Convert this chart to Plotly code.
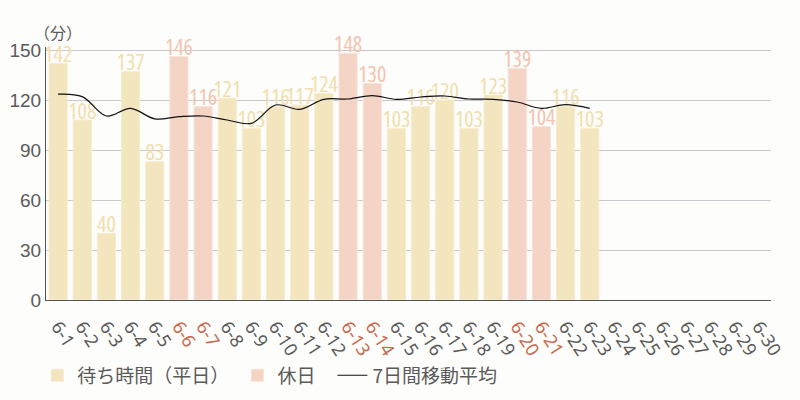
import plotly.graph_objects as go

days = [f"6-{d}" for d in range(1, 31)]
holidays = ["6-6", "6-7", "6-13", "6-14", "6-20", "6-21"]

weekday_vals = [142, 108, 40, 137, 83, None, None, 121, 103, 116, 117, 124, None, None,
                103, 116, 120, 103, 123, None, None, 116, 103,
                None, None, None, None, None, None, None]
holiday_vals = [None, None, None, None, None, 146, 116, None, None, None, None, None, 148, 130,
                None, None, None, None, None, 139, 104, None, None,
                None, None, None, None, None, None, None]
moving_avg = [123.5, 122, 110.4, 115, 108.7, 110, 110.4, 108, 106, 117, 114.4, 120.4, 120.6, 122.6,
              120.4, 121.8, 122.4, 120.6, 120.4, 118.8, 115, 117.2, 115,
              None, None, None, None, None, None, None]

y_ticks = [0, 30, 60, 90, 120, 150]

WEEK_C = "#f3e5bd"
HOL_C = "#f4d4c5"
WEEK_T = "#f1dfae"
HOL_T = "#f2c4b0"
HOL_LABEL = "#c8684c"
GREY = "#5a5a5a"

ticktext = [f'<span style="color:{HOL_LABEL}">{d}</span>' if d in holidays else d for d in days]

COND = "font-family:'Open Sans';font-stretch:75%;font-weight:500;baseline-shift:-4px"


def labels(vals):
    return [f'<span style="{COND}">{v}</span>' if v is not None else "" for v in vals]


fig = go.Figure()
fig.add_trace(go.Bar(
    x=days, y=weekday_vals, name="待ち時間（平日）", legend="legend",
    marker=dict(color=WEEK_C, line=dict(color="#f7ecd0", width=1)),
))
fig.add_trace(go.Bar(
    x=days, y=holiday_vals, name="休日", legend="legend2",
    marker=dict(color=HOL_C, line=dict(color="#f8e2d8", width=1)),
))
fig.add_trace(go.Scatter(
    x=days, y=weekday_vals, mode="text", text=labels(weekday_vals),
    textposition="top center", cliponaxis=False, showlegend=False, hoverinfo="skip",
    textfont=dict(size=22, color=WEEK_T),
))
fig.add_trace(go.Scatter(
    x=days, y=holiday_vals, mode="text", text=labels(holiday_vals),
    textposition="top center", cliponaxis=False, showlegend=False, hoverinfo="skip",
    textfont=dict(size=22, color=HOL_T),
))
fig.add_trace(go.Scatter(
    x=days, y=moving_avg, name="7日間移動平均", mode="lines", legend="legend3",
    line=dict(color="#111111", width=1.2, shape="spline", smoothing=1),
))

legend_common = dict(orientation="h", y=-0.223, yanchor="top", xanchor="left",
                     font=dict(size=19, color=GREY, family="Noto Sans CJK JP"),
                     itemwidth=30, bgcolor="rgba(0,0,0,0)")

fig.update_layout(
    width=800, height=400,
    margin=dict(l=46, r=29, t=47, b=100, autoexpand=False),
    paper_bgcolor="#fdfdfb", plot_bgcolor="#fdfdfb",
    barmode="overlay", bargap=0.25,
    font=dict(family="Noto Sans CJK JP, Noto Sans", color=GREY),
    showlegend=True,
    legend=dict(x=-0.012, **legend_common),
    legend2=dict(x=0.264, **legend_common),
    legend3=dict(x=0.395, **legend_common),
)
fig.update_xaxes(
    type="category", tickmode="array", tickvals=days, ticktext=ticktext,
    tickangle=57, tickfont=dict(size=18, color=GREY, family="Noto Sans, Liberation Sans"),
    showline=True, linecolor="#555555", linewidth=1, showgrid=False, ticks="",
    ticklabelstandoff=8, automargin=False,
    range=[-0.5, 29.5],
)
fig.update_yaxes(
    range=[0, 151.8], tickvals=y_ticks, ticktext=[str(t) for t in y_ticks],
    tickfont=dict(size=19, color=GREY, family="Liberation Sans, Noto Sans"),
    showgrid=True, gridcolor="#cdc6cc", gridwidth=1, automargin=False,
    showline=True, linecolor="#555555", linewidth=1, zeroline=False, ticks="",
)
fig.add_annotation(text="（分）", xref="paper", yref="paper", x=-0.02, y=1.004,
                   xanchor="left", yanchor="bottom", showarrow=False,
                   font=dict(size=16, color=GREY, family="Noto Sans CJK JP"))

fig.write_html("out.html")
